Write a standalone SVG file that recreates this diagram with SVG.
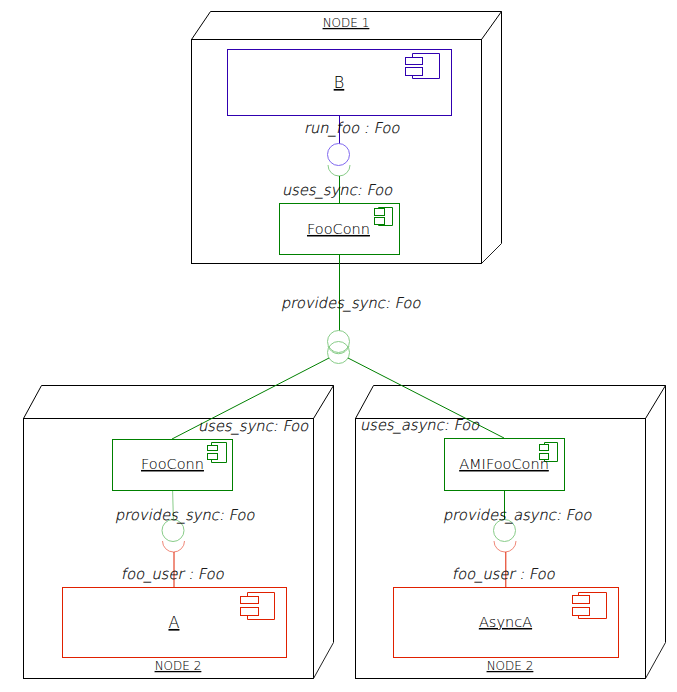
<svg xmlns="http://www.w3.org/2000/svg" width="677" height="692" viewBox="0 0 677 692">
<style>
rect,path,circle,line{fill:none;stroke-width:1}
text{font-family:"DejaVu Sans","Liberation Sans",sans-serif;font-weight:200;fill:#000;stroke:#000;stroke-width:.06}
.box{stroke:#000}
.corner{stroke:#222}
.t{font-size:14.5px;text-anchor:middle;text-decoration:underline}
.big{font-size:16px}
.n{font-size:12px;text-anchor:middle;text-decoration:underline}
.p{font-size:14.7px;stroke-width:.2}
.blue{stroke:#3000b0}
.green{stroke:#008000}
.red{stroke:#e02000}
.bluel{stroke:#8068f0}
.greenl{stroke:#88cc88}
.redl{stroke:#f08878}
</style>
<g id="node1">
<rect class="box" x="191.500" y="39.500" width="290" height="224"/>
<path class="box" d="M191.500 39.500L210.500 11.500H501.500L481.500 39.500M501.500 11.500V243.500"/>
<path class="corner" d="M481.500 263.500L501.500 243.500"/>
<text class="n" x="346" y="27">NODE 1</text>
</g>
<g id="node2a">
<rect class="box" x="23.500" y="418.500" width="290" height="260"/>
<path class="box" d="M23.500 418.500L41.500 385.500H333.500L313.500 418.500M333.500 385.500V642.500"/>
<path class="corner" d="M313.500 678.500L333.500 642.500"/>
<text class="n" x="178" y="670">NODE 2</text>
</g>
<g id="node2b">
<rect class="box" x="355.500" y="418.500" width="290" height="260"/>
<path class="box" d="M355.500 418.500L373.500 385.500H665.500L645.500 418.500M665.500 385.500V642.500"/>
<path class="corner" d="M645.500 678.500L665.500 642.500"/>
<text class="n" x="510" y="670">NODE 2</text>
</g>
<g id="connectors">
<line class="blue" x1="339.500" y1="115" x2="339.500" y2="144"/>
<circle class="bluel" cx="338.500" cy="154.500" r="11"/>
<path class="greenl" d="M328 165A11 11 0 0 0 350 165"/>
<line class="green" x1="339.500" y1="176" x2="339.500" y2="204"/>
<line class="green" x1="339.500" y1="254" x2="339.500" y2="331"/>
<circle class="greenl" cx="338.500" cy="341.500" r="11"/>
<path class="greenl" d="M328 346A11 11 0 0 0 349 346"/>
<circle class="greenl" cx="338.500" cy="352.500" r="11"/>
<line class="green" x1="329" y1="358" x2="172" y2="439"/>
<line class="green" x1="348" y1="358" x2="504" y2="438"/>
<line class="greenl" x1="172.600" y1="490" x2="173.400" y2="520"/>
<circle class="greenl" cx="173" cy="530.500" r="11"/>
<path class="redl" d="M162.500 541A11 11 0 0 0 184.500 541"/>
<line class="red" x1="174" y1="552" x2="174" y2="587"/>
<line class="green" x1="504.500" y1="490" x2="504.500" y2="520"/>
<circle class="greenl" cx="504.500" cy="530.500" r="11"/>
<path class="redl" d="M494 541A11 11 0 0 0 516 541"/>
<line class="red" x1="505.800" y1="552" x2="505.800" y2="587"/>
</g>
<g id="comp-b">
<rect class="blue" x="227.500" y="49.500" width="224" height="66"/>
<path class="blue" d="M412.500 57V53.500H439.500V78.500H412.500V75"/>
<rect class="blue" x="405.500" y="57.500" width="17" height="7"/>
<rect class="blue" x="405.500" y="67.500" width="17" height="8"/>
<text class="t big" x="339" y="88">B</text>
</g>
<g id="comp-fooconn-top">
<rect class="green" x="279.500" y="203.500" width="120" height="51"/>
<path class="green" d="M378.500 208V207.500H392.500V225.500H378.500V224"/>
<rect class="green" x="374.500" y="208.500" width="10" height="7"/>
<rect class="green" x="374.500" y="217.500" width="10" height="7"/>
<text class="t" x="338.500" y="234">FooConn</text>
</g>
<g id="comp-fooconn-left">
<rect class="green" x="112.500" y="439.500" width="120" height="51"/>
<path class="green" d="M211.500 445V442.500H226.500V462.500H211.500V459"/>
<rect class="green" x="207.500" y="445.500" width="10" height="5"/>
<rect class="green" x="207.500" y="453.500" width="10" height="6"/>
<text class="t" x="172.500" y="469">FooConn</text>
</g>
<g id="comp-amifooconn">
<rect class="green" x="444.500" y="438.500" width="120" height="52"/>
<path class="green" d="M544.500 444V442.500H557.500V461.500H544.500V460"/>
<rect class="green" x="539.500" y="444.500" width="9" height="6"/>
<rect class="green" x="539.500" y="453.500" width="9" height="6"/>
<text class="t" x="504" y="469">AMIFooConn</text>
</g>
<g id="comp-a">
<rect class="red" x="62.500" y="587.500" width="224" height="70"/>
<path class="red" d="M247.500 596V592.500H274.500V619.500H247.500V615"/>
<rect class="red" x="240.500" y="596.500" width="18" height="7"/>
<rect class="red" x="240.500" y="607.500" width="18" height="8"/>
<text class="t big" x="174" y="628">A</text>
</g>
<g id="comp-asynca">
<rect class="red" x="393.500" y="587.500" width="225" height="70"/>
<path class="red" d="M578.500 595V592.500H606.500V618.500H578.500V615"/>
<rect class="red" x="572.500" y="595.500" width="17" height="8"/>
<rect class="red" x="572.500" y="607.500" width="17" height="8"/>
<text class="t" x="505.500" y="627">AsyncA</text>
</g>
<g id="port-labels">
<text class="p" transform="translate(304 133) skewX(-12)">run_foo : Foo</text>
<text class="p" transform="translate(282 195) skewX(-12)">uses_sync: Foo</text>
<text class="p" transform="translate(281 308) skewX(-12)">provides_sync: Foo</text>
<text class="p" transform="translate(198 431) skewX(-12)">uses_sync: Foo</text>
<text class="p" transform="translate(360 430) skewX(-12)">uses_async: Foo</text>
<text class="p" transform="translate(115 520) skewX(-12)">provides_sync: Foo</text>
<text class="p" transform="translate(443 520) skewX(-12)">provides_async: Foo</text>
<text class="p" transform="translate(121 579) skewX(-12)">foo_user : Foo</text>
<text class="p" transform="translate(452 579) skewX(-12)">foo_user : Foo</text>
</g>
</svg>
